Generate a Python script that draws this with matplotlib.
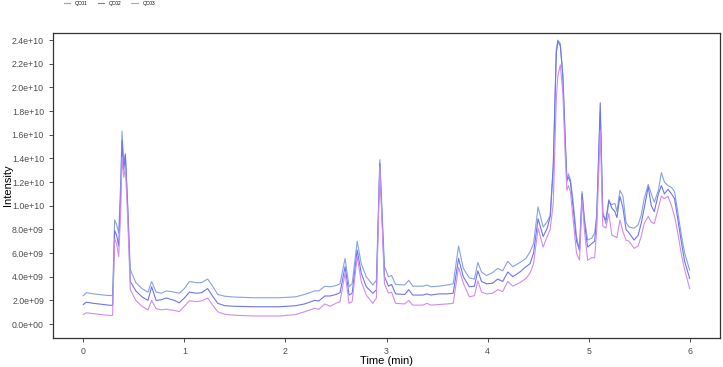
import matplotlib
matplotlib.use("Agg")
import matplotlib.pyplot as plt
from matplotlib.ticker import FuncFormatter

plt.rcParams["font.family"] = ["Liberation Sans", "DejaVu Sans"]

# retention time (min)
time = [0.00, 0.03, 0.10, 0.20, 0.27, 0.29, 0.31, 0.33, 0.35, 0.37, 0.383, 0.40, 0.416, 0.44,
        0.465, 0.52, 0.58, 0.64, 0.676, 0.72, 0.77, 0.82, 0.90, 0.95, 1.00, 1.05, 1.12, 1.17,
        1.23, 1.28, 1.33, 1.40, 1.50, 1.70, 1.94, 2.10, 2.19, 2.29, 2.33, 2.39, 2.44, 2.50,
        2.54, 2.59, 2.63, 2.66, 2.71, 2.75, 2.80, 2.865, 2.90, 2.934, 2.98, 3.02, 3.05, 3.09,
        3.18, 3.22, 3.26, 3.36, 3.40, 3.44, 3.52, 3.60, 3.66, 3.713, 3.76, 3.82, 3.87, 3.904,
        3.94, 3.99, 4.05, 4.10, 4.15, 4.20, 4.25, 4.32, 4.38, 4.42, 4.455, 4.50, 4.55, 4.59,
        4.62, 4.65, 4.68, 4.696, 4.72, 4.745, 4.77, 4.785, 4.80, 4.82, 4.845, 4.88, 4.91,
        4.935, 4.96, 4.99, 5.03, 5.06, 5.08, 5.115, 5.14, 5.17, 5.20, 5.23, 5.26, 5.28, 5.31,
        5.34, 5.37, 5.40, 5.45, 5.49, 5.52, 5.55, 5.59, 5.62, 5.65, 5.69, 5.72, 5.75, 5.785,
        5.82, 5.85, 5.88, 5.92, 5.95, 6.00]

# intensity in units of 1e9
qc01 = [2.40, 2.65, 2.55, 2.45, 2.40, 2.45, 8.80, 8.40, 7.70, 12.0, 16.3, 13.5, 14.4, 10.0,
        4.6, 3.5, 3.0, 2.7, 3.6, 2.7, 2.6, 2.8, 2.7, 2.6, 3.0, 3.6, 3.5, 3.5,
        3.8, 3.2, 2.5, 2.35, 2.28, 2.22, 2.22, 2.30, 2.5, 2.8, 2.8, 3.2, 3.15, 3.25,
        3.4, 5.55, 3.15, 3.4, 7.0, 5.1, 4.0, 3.3, 3.7, 13.9, 4.85, 4.0, 4.1, 3.35,
        3.3, 3.7, 3.2, 3.2, 3.3, 3.15, 3.2, 3.3, 3.4, 6.6, 4.7, 3.9, 3.8, 5.2,
        4.4, 4.1, 4.35, 4.7, 4.5, 5.3, 4.85, 5.2, 5.55, 6.1, 6.8, 9.9, 8.2, 8.65,
        9.2, 13.0, 23.2, 24.0, 23.7, 20.9, 15.5, 12.0, 12.7, 12.2, 10.5, 7.4, 6.25,
        11.2, 8.8, 7.1, 7.25, 7.7, 9.2, 18.0, 9.5, 8.5, 10.3, 10.1, 10.2, 9.5, 11.3,
        10.8, 8.6, 8.2, 8.1, 8.4, 9.2, 10.6, 11.8, 11.0, 10.3, 11.3, 12.8, 12.0, 11.7,
        11.55, 11.2, 9.6, 7.4, 6.0, 4.56]

qc02 = [1.65, 1.85, 1.75, 1.65, 1.58, 1.60, 7.90, 7.50, 6.60, 11.0, 15.5, 13.0, 14.3, 9.5,
        3.6, 2.8, 2.3, 2.0, 3.15, 2.0, 2.05, 2.2, 2.0, 1.8, 2.2, 2.7, 2.6, 2.65,
        3.0, 2.35, 1.75, 1.55, 1.50, 1.46, 1.46, 1.55, 1.7, 2.0, 1.95, 2.37, 2.37, 2.5,
        2.65, 4.85, 2.45, 2.6, 6.25, 4.3, 3.15, 2.6, 2.9, 13.6, 4.0, 3.2, 3.35, 2.55,
        2.5, 2.9, 2.45, 2.45, 2.55, 2.45, 2.55, 2.55, 2.6, 5.55, 4.0, 3.15, 3.2, 4.5,
        3.6, 3.4, 3.45, 3.8, 3.6, 4.4, 4.0, 4.4, 4.85, 5.1, 6.0, 8.9, 7.4, 8.1,
        9.1, 13.5, 22.9, 23.9, 23.5, 21.0, 15.0, 12.2, 12.4, 12.0, 10.0, 7.0, 6.25,
        11.0, 8.5, 6.5, 6.8, 7.0, 9.0, 18.7, 9.2, 8.8, 10.5, 9.8, 9.5, 9.0, 10.8,
        9.8, 8.0, 7.7, 7.1, 7.5, 8.5, 9.8, 11.6, 10.0, 9.5, 11.0, 11.7, 11.0, 11.4,
        11.0, 10.6, 9.0, 6.8, 5.3, 3.85]

qc03 = [0.80, 0.95, 0.88, 0.78, 0.72, 0.75, 7.20, 6.80, 5.70, 9.5, 14.1, 12.4, 13.2, 8.8,
        2.9, 2.0, 1.5, 1.2, 2.0, 1.3, 1.2, 1.25, 1.15, 1.05, 1.5, 1.97, 1.9, 1.95,
        2.2, 1.6, 1.04, 0.82, 0.74, 0.68, 0.68, 0.80, 1.04, 1.33, 1.24, 1.7, 1.5, 1.75,
        1.9, 4.3, 1.75, 1.9, 5.7, 3.6, 2.45, 1.75, 2.2, 13.3, 3.4, 2.6, 2.7, 1.75,
        1.7, 2.0, 1.6, 1.6, 1.75, 1.6, 1.65, 1.7, 1.75, 4.8, 3.45, 2.3, 2.4, 3.65,
        2.7, 2.55, 2.6, 2.9, 2.75, 3.6, 3.2, 3.5, 3.85, 4.3, 5.1, 8.1, 6.5, 7.4,
        8.0, 10.2, 19.0, 21.0, 21.9, 19.5, 14.0, 11.3, 11.7, 11.2, 9.0, 6.0, 5.4,
        10.5, 7.8, 5.4, 5.6, 5.6, 8.0, 16.4, 8.3, 8.1, 9.35, 7.5, 7.4, 7.3, 8.8,
        7.8, 7.1, 7.0, 6.4, 6.6, 7.4, 8.5, 9.1, 8.6, 8.5, 9.8, 10.8, 10.6, 10.8,
        10.0, 9.1, 7.8, 5.8, 4.6, 3.0]

samples = ["QC01", "QC02", "QC03"]
colors = ["#86a3e3", "#6f74f2", "#d08cf0"]

fig = plt.figure(figsize=(7.23, 3.67), dpi=100)
ax = fig.add_axes([53 / 723, 29 / 367, 667 / 723, 305 / 367])

for name, vals, c in zip(samples, [qc01, qc02, qc03], colors):
    ax.plot(time, [v * 1e9 for v in vals], color=c, lw=0.8, label=name)

ax.set_xlim(-0.3, 6.3)
ax.set_ylim(-1.18e9, 2.46e10)
ax.set_xticks(range(0, 7))
ax.set_yticks([i * 2e9 for i in range(13)])
ax.yaxis.set_major_formatter(FuncFormatter(lambda v, p: "%.1e" % v))

for s in ax.spines.values():
    s.set_color("#333333")
    s.set_linewidth(0.9)
ax.tick_params(length=3, width=0.6, color="#333333", labelcolor="#4d4d4d", labelsize=6.3)
ax.set_xlabel("Time (min)", fontsize=8, labelpad=0)
ax.set_ylabel("Intensity", fontsize=8, labelpad=-1)

fig.legend(loc="upper left", bbox_to_anchor=(64 / 723, 1 - 0.5 / 367), ncol=3,
           fontsize=3.5, frameon=False, handlelength=1.3, handletextpad=1.0,
           columnspacing=2.0, borderpad=0, borderaxespad=0)

fig.savefig("out.png", dpi=100)
